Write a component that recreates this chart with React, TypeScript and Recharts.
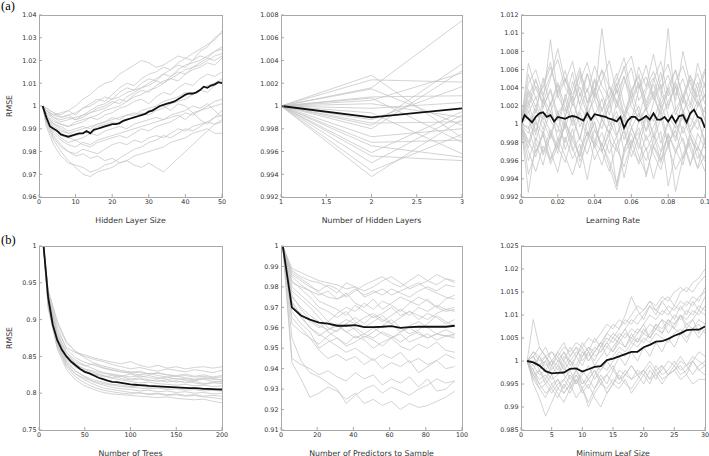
import { LineChart, Line, XAxis, YAxis } from 'recharts'

// ---- (a) hidden layer size ----
const hlsRunX = [1, 2, 4, 6, 8, 10, 12, 14, 16, 18, 20, 22, 24, 26, 28, 30, 32, 34, 36, 38, 40, 42, 44, 46, 48, 50]
const hlsRuns = [
  [1, 0.998, 0.996, 0.995, 0.996, 0.997, 0.999, 1.001, 1.003, 1.002, 1.005, 1.008, 1.01, 1.009, 1.012, 1.014, 1.015, 1.017, 1.016, 1.019, 1.021, 1.02, 1.024, 1.026, 1.03, 1.032],
  [1, 0.999, 0.997, 0.996, 0.998, 1, 1.003, 1.005, 1.008, 1.01, 1.011, 1.014, 1.016, 1.018, 1.02, 1.019, 1.017, 1.018, 1.02, 1.022, 1.021, 1.023, 1.025, 1.027, 1.029, 1.033],
  [1, 0.997, 0.995, 0.994, 0.995, 0.994, 0.996, 0.998, 1, 1.001, 1.003, 1.004, 1.006, 1.007, 1.008, 1.01, 1.012, 1.014, 1.013, 1.016, 1.018, 1.019, 1.02, 1.022, 1.024, 1.025],
  [1, 0.998, 0.995, 0.993, 0.994, 0.995, 0.996, 0.997, 0.999, 1, 1.002, 1.001, 1.004, 1.006, 1.008, 1.009, 1.011, 1.01, 1.013, 1.015, 1.014, 1.017, 1.019, 1.021, 1.02, 1.022],
  [1, 0.996, 0.993, 0.992, 0.991, 0.993, 0.994, 0.995, 0.996, 0.998, 0.999, 1, 1.002, 1.004, 1.005, 1.007, 1.008, 1.01, 1.012, 1.014, 1.016, 1.017, 1.018, 1.02, 1.022, 1.023],
  [1, 0.999, 0.997, 0.995, 0.996, 0.994, 0.995, 0.997, 0.998, 0.999, 1.001, 1.003, 1.002, 1.005, 1.007, 1.006, 1.009, 1.011, 1.012, 1.011, 1.014, 1.016, 1.017, 1.019, 1.018, 1.021],
  [1, 0.995, 0.991, 0.989, 0.988, 0.989, 0.99, 0.991, 0.992, 0.993, 0.994, 0.995, 0.996, 0.996, 0.998, 0.999, 1, 1.002, 1.003, 1.004, 1.006, 1.005, 1.007, 1.009, 1.01, 1.012],
  [1, 0.996, 0.992, 0.99, 0.988, 0.987, 0.988, 0.989, 0.991, 0.992, 0.993, 0.992, 0.994, 0.995, 0.997, 0.996, 0.998, 0.999, 1.001, 1.002, 1.003, 1.005, 1.007, 1.006, 1.009, 1.011],
  [1, 0.994, 0.988, 0.985, 0.983, 0.982, 0.984, 0.983, 0.985, 0.986, 0.987, 0.988, 0.989, 0.99, 0.991, 0.992, 0.993, 0.994, 0.995, 0.996, 0.994, 0.997, 0.998, 0.999, 1, 1.001],
  [1, 0.992, 0.985, 0.98, 0.976, 0.973, 0.97, 0.969, 0.971, 0.972, 0.973, 0.975, 0.976, 0.978, 0.979, 0.98, 0.981, 0.982, 0.984, 0.985, 0.986, 0.988, 0.989, 0.99, 0.988, 0.988],
  [1, 0.993, 0.987, 0.983, 0.98, 0.978, 0.979, 0.977, 0.978, 0.976, 0.977, 0.975, 0.976, 0.974, 0.973, 0.975, 0.973, 0.971, 0.974, 0.977, 0.98, 0.983, 0.986, 0.989, 0.992, 0.994],
  [1, 0.994, 0.989, 0.986, 0.984, 0.985, 0.983, 0.982, 0.984, 0.985, 0.986, 0.987, 0.986, 0.988, 0.99, 0.989, 0.991, 0.992, 0.993, 0.995, 0.997, 0.996, 0.998, 1, 1.002, 1.003],
  [1, 0.995, 0.99, 0.987, 0.986, 0.985, 0.986, 0.988, 0.987, 0.989, 0.99, 0.991, 0.99, 0.992, 0.993, 0.994, 0.995, 0.994, 0.996, 0.997, 0.998, 1, 0.999, 1.001, 0.998, 0.995],
  [1, 0.997, 0.994, 0.992, 0.991, 0.992, 0.993, 0.995, 0.994, 0.996, 0.997, 0.999, 1, 1.002, 1.003, 1.001, 1.004, 1.006, 1.005, 1.008, 1.01, 1.009, 1.012, 1.014, 1.013, 1.015],
  [1, 0.991, 0.983, 0.978, 0.975, 0.974, 0.973, 0.971, 0.972, 0.974, 0.975, 0.977, 0.979, 0.981, 0.982, 0.984, 0.985, 0.987, 0.986, 0.988, 0.99, 0.989, 0.991, 0.993, 0.995, 0.996],
  [1, 0.998, 0.996, 0.997, 0.998, 0.996, 0.999, 1, 1.002, 1.004, 1.003, 1.006, 1.008, 1.007, 1.01, 1.012, 1.011, 1.014, 1.016, 1.018, 1.017, 1.02, 1.022, 1.021, 1.024, 1.026],
  [1, 0.996, 0.992, 0.991, 0.989, 0.99, 0.991, 0.99, 0.992, 0.993, 0.995, 0.994, 0.996, 0.997, 0.996, 0.998, 0.999, 1, 0.998, 1.001, 1, 0.997, 0.994, 0.992, 0.995, 0.998],
  [1, 0.993, 0.986, 0.982, 0.98, 0.979, 0.981, 0.98, 0.979, 0.981, 0.983, 0.984, 0.983, 0.985, 0.984, 0.986, 0.987, 0.986, 0.988, 0.99, 0.989, 0.991, 0.992, 0.993, 0.992, 0.993],
]
const hlsMeanX = [1, 2, 3, 4, 5, 6, 7, 8, 9, 10, 11, 12, 13, 14, 15, 16, 17, 18, 19, 20, 21, 22, 23, 24, 25, 26, 27, 28, 29, 30, 31, 32, 33, 34, 35, 36, 37, 38, 39, 40, 41, 42, 43, 44, 45, 46, 47, 48, 49, 50]
const hlsMean = [1, 0.995, 0.991, 0.99, 0.989, 0.9875, 0.987, 0.9865, 0.987, 0.9875, 0.988, 0.988, 0.989, 0.988, 0.9895, 0.99, 0.9905, 0.991, 0.9915, 0.992, 0.992, 0.9925, 0.9935, 0.994, 0.9945, 0.995, 0.9955, 0.996, 0.9965, 0.9975, 0.998, 0.999, 1, 1.0005, 1.001, 1.0015, 1.002, 1.003, 1.004, 1.005, 1.0055, 1.0055, 1.006, 1.007, 1.0085, 1.008, 1.009, 1.0095, 1.0105, 1.01]

// ---- (a) number of hidden layers ----
const layersX = [1, 2, 3]
const layersRuns = [
  [1, 1.0027, 0.9972], [1, 1.0023, 1.0021], [1, 1.0016, 1.0075], [1, 1.0015, 0.9983],
  [1, 1.0008, 1.0009], [1, 1.0007, 0.9968], [1, 1.0005, 1.0029], [1, 1.0002, 0.999],
  [1, 0.9998, 1.0003], [1, 0.9994, 0.9958], [1, 0.9988, 1.0017], [1, 0.9985, 0.9986],
  [1, 0.9983, 1.0037], [1, 0.998, 1.0031], [1, 0.9973, 0.998], [1, 0.9968, 0.997],
  [1, 0.9959, 0.9995], [1, 0.9956, 0.9952], [1, 0.995, 0.9992], [1, 0.9943, 0.9975],
  [1, 0.9938, 0.9988], [1, 0.9965, 0.9955],
]
const layersMean = [1, 0.999, 0.9998]

// ---- (a) learning rate ----
const lrRunX = [0, 0.004, 0.008, 0.012, 0.016, 0.02, 0.024, 0.028, 0.032, 0.036, 0.04, 0.044, 0.048, 0.052, 0.056, 0.06, 0.064, 0.068, 0.072, 0.076, 0.08, 0.084, 0.088, 0.092, 0.096, 0.1]
const lrRuns = [
  [1, 1.0035, 1.0012, 1.0051, 1.002, 1.0043, 1.0008, 1.0039, 1.0062, 1.0024, 1.0048, 1.0015, 1.0033, 1.0056, 1.0021, 1.0004, 1.0038, 1.0065, 1.0029, 1.0011, 1.0042, 1.0059, 1.003, 1.0018, 1.0046, 1.0022],
  [1, 0.9979, 1.0006, 0.9966, 0.9988, 1.0015, 0.9972, 0.9995, 0.9959, 0.9981, 1.0003, 0.997, 0.9948, 0.9978, 0.9992, 0.9964, 0.9986, 1.0009, 0.9975, 0.9957, 0.999, 0.9968, 0.9998, 0.9973, 0.9952, 0.9984],
  [1, 1.0018, 1.0042, 1.0025, 1.0093, 1.0031, 1.0014, 1.0047, 1.0022, 1.0055, 1.003, 1.0105, 1.0041, 1.0026, 1.0009, 1.0038, 1.0052, 1.002, 1.0044, 1.0017, 1.0035, 1.006, 1.0028, 1.0049, 1.0019, 1.0032],
  [1, 0.9925, 0.998, 0.9955, 0.999, 0.9968, 1.0005, 0.9974, 0.9952, 0.9985, 1.0002, 0.9971, 0.9989, 0.9932, 0.997, 0.9996, 0.9978, 0.996, 0.9982, 1.0007, 0.9976, 0.995, 0.9966, 0.9988, 0.9962, 0.998],
  [1, 1.0026, 0.9992, 1.0019, 1.0037, 1.0004, 1.0028, 0.9998, 1.0016, 1.0039, 1.001, 0.9995, 1.0023, 1.0045, 1.0012, 1.0029, 1.0001, 1.0018, 1.0036, 1.0006, 1.0025, 1.0041, 1.0014, 0.9997, 1.002, 1.0033],
  [1, 0.999, 1.0017, 0.9994, 1.0024, 0.9982, 1.0009, 1.0031, 0.9997, 1.0015, 0.998, 1.0007, 1.0026, 0.9988, 1.001, 0.9974, 1.0003, 1.0019, 0.9985, 1.0022, 1.0001, 0.9981, 1.0013, 0.9993, 1.0008, 0.9977],
  [1, 1.0045, 1.006, 1.0032, 1.0054, 1.0071, 1.004, 1.0027, 1.0058, 1.0035, 1.0064, 1.0042, 1.0029, 1.005, 1.0073, 1.0036, 1.0055, 1.0024, 1.0048, 1.0069, 1.0031, 1.0046, 1.0023, 1.0053, 1.0039, 1.0061],
  [1, 0.997, 0.9948, 0.9976, 0.996, 0.9984, 0.9965, 0.9944, 0.9972, 0.9991, 0.9961, 0.9979, 0.9954, 0.9928, 0.9967, 0.9983, 0.9956, 0.9974, 0.994, 0.9969, 0.9987, 0.9926, 0.9963, 0.998, 0.9951, 0.9966],
  [1, 1.0012, 1.003, 1.0005, 1.0022, 1.0046, 1.0018, 1.0002, 1.0034, 1.0011, 1.0027, 1.0004, 1.0019, 1.0038, 1.0008, 1.0024, 1.0044, 1.0015, 1.0003, 1.0028, 1.0105, 1.0016, 1.0032, 1.0009, 1.0025, 1.0013],
  [1, 0.9995, 1.0021, 1.0003, 0.9984, 1.0012, 0.9996, 1.0023, 1.0006, 0.9987, 1.0009, 1.0028, 0.9998, 1.0014, 0.9983, 1.0005, 1.002, 0.9992, 1.0011, 0.9979, 1.0004, 1.0017, 0.999, 1.0008, 0.9994, 1.0019],
  [1, 1.0055, 1.0028, 1.004, 1.0063, 1.0034, 1.0051, 1.002, 1.0047, 1.0068, 1.0036, 1.0059, 1.0025, 1.0043, 1.0061, 1.0075, 1.0039, 1.0052, 1.0027, 1.0049, 1.0066, 1.0032, 1.005, 1.0021, 1.0067, 1.004],
  [1, 0.996, 0.9985, 0.9969, 0.9994, 0.9975, 0.9958, 0.9987, 0.9964, 0.9992, 0.9977, 0.9955, 0.9983, 0.997, 0.9995, 0.9972, 0.9959, 0.9988, 0.9967, 0.995, 0.998, 0.9993, 0.9962, 0.9984, 0.997, 0.9948],
  [1, 1.0008, 0.9981, 1.001, 0.9991, 0.9973, 1.0002, 0.9985, 1.0013, 0.9993, 0.9976, 1.0005, 0.9989, 1.0009, 0.997, 0.9996, 1.0012, 0.9982, 0.9997, 1.0016, 0.9978, 0.9994, 1.0007, 0.9987, 0.9971, 1.0002],
  [1, 1.003, 1.005, 1.0018, 1.0039, 1.0011, 1.0026, 1.0057, 1.002, 1.0006, 1.0035, 1.0014, 1.0042, 1.0023, 1.0053, 1.0019, 1.0008, 1.0037, 1.0051, 1.0022, 1.004, 1.001, 1.0031, 1.0054, 1.0026, 1.0005],
  [1, 0.9945, 0.997, 0.9988, 0.9962, 0.998, 0.9997, 0.9971, 0.9986, 0.9967, 0.9994, 0.9978, 0.996, 0.9935, 0.9973, 0.999, 0.9965, 0.9945, 0.9976, 0.9992, 0.9932, 0.9969, 0.9985, 0.9957, 0.9975, 0.9962],
  [1, 1.0015, 0.9988, 1.0028, 1.0004, 0.9991, 1.0033, 1.001, 0.9984, 1.0021, 1.004, 1.0006, 0.999, 1.0025, 1.0002, 1.0036, 1.0013, 0.9993, 1.0024, 1.0044, 1.0009, 0.9996, 1.0027, 1.0011, 1.0039, 1.0003],
  [1, 1.0067, 1.0039, 1.0022, 1.005, 1.0083, 1.0046, 1.0069, 1.0031, 1.0056, 1.0027, 1.0048, 1.007, 1.0034, 1.0052, 1.0029, 1.0063, 1.0041, 1.0077, 1.0038, 1.0054, 1.0026, 1.008, 1.0044, 1.003, 1.0058],
  [1, 0.9982, 0.9964, 0.9993, 0.9971, 0.9947, 0.9986, 0.9962, 0.9978, 0.9939, 0.9981, 0.9969, 0.9994, 0.9974, 0.9953, 0.998, 0.9991, 0.9942, 0.9977, 0.9961, 0.9989, 0.9972, 0.9955, 0.9992, 0.9976, 0.9959],
  [1, 1.0022, 1.0048, 1.003, 1.0013, 1.0036, 1.0059, 1.0024, 1.0041, 1.0016, 1.005, 1.0033, 1.001, 1.0039, 1.0064, 1.0028, 1.0046, 1.0015, 1.0032, 1.0057, 1.002, 1.0043, 1.0012, 1.0035, 1.0056, 1.0029],
  [1, 0.9974, 1.0002, 0.9989, 1.0014, 0.9997, 0.998, 1.0007, 0.9983, 1.0018, 0.9994, 0.9976, 1.0004, 0.9986, 1.0011, 0.9998, 0.9973, 1.0008, 0.999, 0.997, 1.0003, 0.9985, 1.0016, 0.9991, 1.0005, 0.9982],
  [1, 1.0038, 1.0019, 1.0044, 1.0068, 1.0029, 1.0049, 1.0032, 1.0054, 1.0023, 1.0037, 1.006, 1.0041, 1.0018, 1.0045, 1.0062, 1.0026, 1.004, 1.0058, 1.0034, 1.0017, 1.0048, 1.0064, 1.0036, 1.0022, 1.0046],
  [1, 0.9997, 0.9969, 0.999, 0.9956, 0.9977, 1.0001, 0.9982, 0.9965, 1.0004, 0.9974, 0.9991, 0.9968, 0.9987, 0.9941, 0.9979, 0.9996, 0.9971, 0.9988, 0.996, 0.9975, 1.0002, 0.9981, 0.9954, 0.999, 0.9973],
]
const lrMeanX = [0, 0.002, 0.004, 0.006, 0.008, 0.01, 0.012, 0.014, 0.016, 0.018, 0.02, 0.022, 0.024, 0.026, 0.028, 0.03, 0.032, 0.034, 0.036, 0.038, 0.04, 0.042, 0.044, 0.046, 0.048, 0.05, 0.052, 0.054, 0.056, 0.058, 0.06, 0.062, 0.064, 0.066, 0.068, 0.07, 0.072, 0.074, 0.076, 0.078, 0.08, 0.082, 0.084, 0.086, 0.088, 0.09, 0.092, 0.094, 0.096, 0.098, 0.1]
const lrMean = [1, 1.001, 1.0006, 1.0002, 1.0008, 1.0012, 1.0013, 1.0008, 1.001, 1.0003, 1.0008, 1.0007, 1.0006, 1.0008, 1.0009, 1.0008, 1.0006, 1.0004, 1.0012, 1.0005, 1.0011, 1.001, 1.0009, 1.0008, 1.0006, 1.0005, 1.0003, 1.0008, 0.9996, 1.0004, 1.0008, 1.0008, 1.0004, 1.0006, 1.0009, 1.0005, 1.0012, 1.0005, 1.0005, 1.0008, 1.0003, 1.0009, 1.0002, 1.0009, 1.001, 1.0002, 1.0012, 1.0016, 1.0008, 1.0006, 0.9996]

// ---- (b) number of trees ----
const treesRunX = [5, 10, 20, 30, 40, 50, 60, 70, 80, 90, 100, 110, 120, 130, 140, 150, 160, 170, 180, 190, 200]
const treesRuns = [
  [1, 0.935, 0.885, 0.862, 0.855, 0.852, 0.848, 0.845, 0.842, 0.84, 0.843, 0.838, 0.835, 0.838, 0.834, 0.836, 0.833, 0.835, 0.836, 0.834, 0.836],
  [1, 0.94, 0.895, 0.868, 0.857, 0.85, 0.846, 0.843, 0.839, 0.836, 0.833, 0.835, 0.832, 0.83, 0.833, 0.831, 0.829, 0.832, 0.83, 0.828, 0.831],
  [1, 0.93, 0.878, 0.852, 0.842, 0.837, 0.84, 0.835, 0.832, 0.829, 0.828, 0.83, 0.826, 0.828, 0.825, 0.824, 0.826, 0.823, 0.825, 0.822, 0.824],
  [1, 0.925, 0.872, 0.846, 0.835, 0.829, 0.825, 0.822, 0.824, 0.82, 0.818, 0.819, 0.817, 0.818, 0.815, 0.817, 0.814, 0.816, 0.813, 0.815, 0.816],
  [1, 0.928, 0.88, 0.855, 0.845, 0.838, 0.833, 0.828, 0.826, 0.824, 0.822, 0.824, 0.821, 0.82, 0.822, 0.819, 0.82, 0.818, 0.82, 0.819, 0.818],
  [1, 0.92, 0.865, 0.838, 0.826, 0.82, 0.816, 0.813, 0.811, 0.809, 0.808, 0.807, 0.806, 0.807, 0.805, 0.806, 0.804, 0.805, 0.803, 0.804, 0.803],
  [1, 0.915, 0.86, 0.832, 0.818, 0.81, 0.805, 0.801, 0.799, 0.798, 0.797, 0.796, 0.795, 0.794, 0.795, 0.793, 0.792, 0.791, 0.792, 0.789, 0.787],
  [1, 0.918, 0.863, 0.836, 0.822, 0.814, 0.808, 0.804, 0.802, 0.8, 0.799, 0.801, 0.798, 0.799, 0.797, 0.798, 0.796, 0.797, 0.795, 0.794, 0.792],
  [1, 0.93, 0.875, 0.848, 0.836, 0.83, 0.826, 0.824, 0.821, 0.823, 0.819, 0.821, 0.818, 0.816, 0.818, 0.815, 0.817, 0.814, 0.812, 0.814, 0.813],
  [1, 0.922, 0.868, 0.842, 0.83, 0.823, 0.818, 0.815, 0.812, 0.811, 0.809, 0.81, 0.808, 0.809, 0.807, 0.808, 0.806, 0.807, 0.806, 0.804, 0.805],
  [1, 0.935, 0.89, 0.86, 0.848, 0.842, 0.838, 0.834, 0.831, 0.829, 0.827, 0.825, 0.827, 0.824, 0.822, 0.823, 0.821, 0.819, 0.821, 0.82, 0.818],
  [1, 0.926, 0.872, 0.844, 0.83, 0.822, 0.815, 0.811, 0.808, 0.806, 0.805, 0.803, 0.804, 0.802, 0.803, 0.801, 0.802, 0.8, 0.801, 0.799, 0.8],
  [1, 0.932, 0.882, 0.856, 0.84, 0.832, 0.828, 0.824, 0.82, 0.818, 0.816, 0.814, 0.815, 0.813, 0.812, 0.811, 0.812, 0.81, 0.811, 0.809, 0.81],
  [1, 0.94, 0.898, 0.87, 0.856, 0.848, 0.841, 0.837, 0.834, 0.831, 0.829, 0.828, 0.826, 0.827, 0.825, 0.823, 0.824, 0.822, 0.823, 0.821, 0.822],
  [1, 0.92, 0.866, 0.84, 0.826, 0.818, 0.812, 0.807, 0.805, 0.803, 0.801, 0.8, 0.799, 0.8, 0.798, 0.799, 0.797, 0.798, 0.796, 0.797, 0.796],
  [1, 0.928, 0.876, 0.85, 0.838, 0.833, 0.83, 0.827, 0.825, 0.823, 0.826, 0.822, 0.824, 0.821, 0.819, 0.82, 0.818, 0.817, 0.819, 0.816, 0.815],
]
const treesMeanX = [5, 10, 15, 20, 25, 30, 35, 40, 45, 50, 55, 60, 65, 70, 75, 80, 85, 90, 95, 100, 105, 110, 115, 120, 125, 130, 135, 140, 145, 150, 155, 160, 165, 170, 175, 180, 185, 190, 195, 200]
const treesMean = [1, 0.93, 0.893, 0.872, 0.859, 0.85, 0.843, 0.838, 0.833, 0.829, 0.827, 0.824, 0.821, 0.819, 0.817, 0.8155, 0.815, 0.814, 0.813, 0.812, 0.8115, 0.811, 0.8105, 0.81, 0.8097, 0.8093, 0.809, 0.8087, 0.8083, 0.808, 0.8077, 0.8073, 0.807, 0.8068, 0.8065, 0.806, 0.8058, 0.8055, 0.8052, 0.805]

// ---- (b) number of predictors to sample ----
const predX = [1, 6, 11, 16, 21, 26, 31, 36, 41, 46, 51, 56, 61, 66, 71, 76, 81, 86, 91, 96]
const predRuns = [
  [1, 0.989, 0.987, 0.985, 0.983, 0.982, 0.981, 0.979, 0.98, 0.978, 0.98, 0.983, 0.985, 0.982, 0.979, 0.981, 0.983, 0.986, 0.984, 0.983],
  [1, 0.988, 0.985, 0.983, 0.982, 0.98, 0.977, 0.982, 0.98, 0.975, 0.977, 0.979, 0.976, 0.978, 0.98, 0.982, 0.979, 0.977, 0.975, 0.974],
  [1, 0.987, 0.984, 0.981, 0.977, 0.975, 0.974, 0.977, 0.972, 0.97, 0.974, 0.969, 0.972, 0.975, 0.973, 0.971, 0.974, 0.97, 0.968, 0.969],
  [1, 0.985, 0.981, 0.978, 0.973, 0.971, 0.969, 0.966, 0.971, 0.968, 0.965, 0.967, 0.97, 0.966, 0.968, 0.964, 0.967, 0.965, 0.962, 0.964],
  [1, 0.983, 0.979, 0.975, 0.97, 0.968, 0.965, 0.968, 0.963, 0.96, 0.963, 0.966, 0.962, 0.958, 0.961, 0.963, 0.96, 0.957, 0.959, 0.957],
  [1, 0.98, 0.976, 0.972, 0.968, 0.963, 0.961, 0.958, 0.96, 0.957, 0.955, 0.958, 0.956, 0.953, 0.956, 0.958, 0.955, 0.957, 0.956, 0.955],
  [1, 0.978, 0.974, 0.97, 0.965, 0.96, 0.958, 0.962, 0.959, 0.955, 0.958, 0.961, 0.964, 0.96, 0.957, 0.959, 0.962, 0.966, 0.963, 0.961],
  [1, 0.975, 0.97, 0.966, 0.963, 0.958, 0.955, 0.952, 0.956, 0.954, 0.95, 0.953, 0.955, 0.951, 0.949, 0.952, 0.95, 0.953, 0.949, 0.948],
  [1, 0.972, 0.965, 0.96, 0.957, 0.954, 0.951, 0.948, 0.95, 0.947, 0.944, 0.947, 0.945, 0.948, 0.943, 0.945, 0.942, 0.944, 0.947, 0.945],
  [1, 0.968, 0.962, 0.958, 0.95, 0.953, 0.955, 0.951, 0.953, 0.956, 0.954, 0.951, 0.955, 0.957, 0.953, 0.955, 0.957, 0.954, 0.956, 0.957],
  [1, 0.965, 0.96, 0.955, 0.952, 0.956, 0.959, 0.962, 0.965, 0.962, 0.966, 0.963, 0.966, 0.969, 0.966, 0.97, 0.968, 0.971, 0.969, 0.97],
  [1, 0.982, 0.98, 0.978, 0.976, 0.978, 0.974, 0.976, 0.979, 0.976, 0.978, 0.976, 0.979, 0.977, 0.975, 0.978, 0.98, 0.978, 0.981, 0.98],
  [1, 0.962, 0.958, 0.955, 0.949, 0.945, 0.947, 0.944, 0.946, 0.942, 0.945, 0.94, 0.943, 0.941, 0.944, 0.938, 0.941, 0.944, 0.94, 0.941],
  [1, 0.945, 0.942, 0.94, 0.937, 0.939, 0.936, 0.934, 0.938, 0.935, 0.937, 0.932, 0.935, 0.933, 0.936, 0.931, 0.935, 0.929, 0.93, 0.934],
  [1, 0.943, 0.935, 0.926, 0.928, 0.931, 0.929, 0.925, 0.928, 0.923, 0.925, 0.922, 0.924, 0.92, 0.923, 0.921, 0.922, 0.924, 0.926, 0.929],
  [1, 0.955, 0.944, 0.938, 0.936, 0.933, 0.93, 0.923, 0.927, 0.93, 0.932, 0.928, 0.931, 0.929, 0.927, 0.93, 0.932, 0.935, 0.933, 0.934],
  [1, 0.97, 0.967, 0.963, 0.96, 0.963, 0.967, 0.97, 0.968, 0.972, 0.969, 0.973, 0.971, 0.968, 0.972, 0.975, 0.973, 0.97, 0.974, 0.976],
  [1, 0.986, 0.983, 0.98, 0.978, 0.981, 0.979, 0.975, 0.978, 0.981, 0.983, 0.985, 0.982, 0.98, 0.983, 0.986, 0.983, 0.981, 0.984, 0.982],
  [1, 0.976, 0.969, 0.964, 0.961, 0.959, 0.962, 0.958, 0.955, 0.957, 0.96, 0.957, 0.955, 0.958, 0.96, 0.957, 0.955, 0.957, 0.956, 0.956],
  [1, 0.973, 0.966, 0.96, 0.956, 0.959, 0.961, 0.964, 0.962, 0.965, 0.967, 0.964, 0.962, 0.965, 0.968, 0.966, 0.964, 0.967, 0.969, 0.968],
]
const predMean = [1, 0.97, 0.966, 0.964, 0.9625, 0.962, 0.961, 0.961, 0.9613, 0.9603, 0.9603, 0.9605, 0.9608, 0.96, 0.9603, 0.9605, 0.9605, 0.9605, 0.9605, 0.961]

// ---- (b) minimum leaf size ----
const leafX = [1, 2, 3, 4, 5, 6, 7, 8, 9, 10, 11, 12, 13, 14, 15, 16, 17, 18, 19, 20, 21, 22, 23, 24, 25, 26, 27, 28, 29, 30]
const leafRuns = [
  [1, 1.001, 0.999, 1, 1.002, 1.001, 1.003, 1.002, 1.004, 1.003, 1.005, 1.004, 1.006, 1.008, 1.007, 1.009, 1.008, 1.01, 1.012, 1.011, 1.013, 1.012, 1.014, 1.013, 1.015, 1.016, 1.015, 1.017, 1.018, 1.02],
  [1, 0.998, 1.001, 0.999, 1, 0.998, 1.001, 1, 0.999, 1.002, 1.001, 1.003, 1.002, 1.004, 1.006, 1.005, 1.007, 1.009, 1.008, 1.01, 1.012, 1.011, 1.013, 1.014, 1.012, 1.015, 1.016, 1.015, 1.017, 1.0185],
  [1, 1.009, 1.003, 1.001, 1.002, 1, 0.999, 1.001, 1.003, 1.002, 1, 1.002, 1.004, 1.003, 1.005, 1.004, 1.006, 1.005, 1.007, 1.006, 1.008, 1.007, 1.009, 1.008, 1.01, 1.009, 1.011, 1.01, 1.012, 1.011],
  [1, 0.997, 0.998, 0.996, 0.999, 0.997, 1, 0.998, 1.001, 0.999, 1.002, 1, 1.003, 1.005, 1.004, 1.006, 1.005, 1.007, 1.006, 1.008, 1.01, 1.009, 1.011, 1.01, 1.012, 1.011, 1.013, 1.012, 1.014, 1.015],
  [1, 0.996, 0.994, 0.995, 0.993, 0.995, 0.996, 0.994, 0.997, 0.995, 0.996, 0.998, 0.996, 0.997, 0.995, 0.998, 0.997, 0.999, 0.997, 0.998, 0.996, 0.999, 0.997, 0.998, 1, 0.998, 0.999, 0.997, 0.999, 1],
  [1, 0.995, 0.992, 0.988, 0.991, 0.994, 0.993, 0.995, 0.992, 0.994, 0.99, 0.993, 0.995, 0.994, 0.996, 0.995, 0.997, 0.996, 0.998, 0.997, 0.999, 0.997, 0.998, 1, 0.999, 1.001, 0.999, 1, 1.002, 1.001],
  [1, 0.998, 0.996, 0.997, 0.995, 0.996, 0.994, 0.997, 0.995, 0.998, 0.996, 0.994, 0.997, 0.995, 0.998, 0.996, 0.997, 0.999, 0.997, 0.998, 1, 0.998, 0.999, 0.997, 0.998, 1, 0.999, 1.001, 1, 0.999],
  [1, 1.002, 1.001, 1.003, 1, 1.002, 1.004, 1.001, 1.003, 1, 1.002, 0.999, 1.001, 1.003, 1.002, 1.004, 1.003, 1.005, 1.004, 1.006, 1.005, 1.007, 1.006, 1.008, 1.007, 1.006, 1.008, 1.007, 1.009, 1.008],
  [1, 0.999, 0.997, 0.998, 0.996, 0.997, 0.999, 0.996, 0.998, 0.995, 0.997, 0.999, 0.998, 1, 1.001, 1.003, 1.002, 1.004, 1.003, 1.005, 1.004, 1.006, 1.005, 1.004, 1.006, 1.007, 1.005, 1.007, 1.008, 1.006],
  [1, 1.001, 0.998, 1, 0.997, 0.999, 0.997, 0.995, 0.998, 0.996, 0.994, 0.997, 0.999, 0.998, 1, 1.002, 1.001, 1.003, 1.005, 1.004, 1.006, 1.008, 1.007, 1.009, 1.008, 1.01, 1.009, 1.011, 1.01, 1.012],
  [1, 0.997, 0.995, 0.996, 0.994, 0.992, 0.995, 0.993, 0.996, 0.994, 0.991, 0.994, 0.996, 0.993, 0.995, 0.997, 0.995, 0.994, 0.996, 0.998, 0.996, 0.997, 0.995, 0.997, 0.998, 0.996, 0.997, 0.995, 0.996, 0.996],
  [1, 1, 0.999, 1.001, 0.998, 1, 1.002, 0.999, 1.001, 1.003, 1, 1.002, 1.004, 1.001, 1.003, 1.005, 1.007, 1.004, 1.006, 1.008, 1.005, 1.007, 1.009, 1.006, 1.008, 1.01, 1.007, 1.009, 1.006, 1.008],
  [1, 0.996, 0.998, 0.995, 0.997, 0.994, 0.996, 0.998, 0.995, 0.997, 0.999, 0.996, 0.998, 1, 0.998, 1.001, 0.999, 1.002, 1, 1.003, 1.001, 1.004, 1.002, 1.005, 1.003, 1.006, 1.004, 1.007, 1.005, 1.007],
  [1, 1.002, 1, 1.001, 0.999, 1.001, 0.998, 1, 1.002, 1.001, 1.003, 1.002, 1.004, 1.006, 1.005, 1.007, 1.009, 1.008, 1.01, 1.011, 1.013, 1.011, 1.01, 1.012, 1.011, 1.013, 1.012, 1.014, 1.013, 1.016],
  [1, 0.998, 0.995, 0.993, 0.994, 0.996, 0.993, 0.995, 0.997, 0.994, 0.996, 0.998, 0.995, 0.997, 0.999, 0.996, 0.998, 0.996, 0.997, 0.995, 0.998, 0.996, 0.999, 0.997, 0.998, 0.999, 0.997, 1, 0.998, 0.999],
  [1, 1.001, 1.003, 1.001, 0.999, 1.002, 1, 1.003, 1.001, 1.004, 1.002, 1.005, 1.003, 1.006, 1.008, 1.007, 1.01, 1.014, 1.011, 1.009, 1.012, 1.01, 1.013, 1.011, 1.009, 1.012, 1.01, 1.013, 1.011, 1.014],
  [1, 0.997, 0.994, 0.992, 0.995, 0.993, 0.991, 0.994, 0.996, 0.993, 0.995, 0.992, 0.99, 0.993, 0.995, 0.994, 0.996, 0.993, 0.995, 0.997, 0.995, 0.998, 0.996, 0.997, 0.999, 0.997, 0.998, 1, 0.998, 0.997],
  [1, 0.999, 1.001, 0.998, 1, 0.999, 1.002, 1, 0.998, 1.001, 1.003, 1.001, 1.002, 1.004, 1.002, 1.005, 1.003, 1.006, 1.004, 1.007, 1.005, 1.008, 1.006, 1.009, 1.007, 1.01, 1.008, 1.009, 1.011, 1.01],
]
const leafMean = [1, 0.9997, 0.999, 0.9978, 0.9973, 0.9974, 0.9975, 0.9983, 0.9984, 0.9977, 0.9982, 0.9987, 0.9989, 1.0002, 1.0005, 1.001, 1.0015, 1.002, 1.002, 1.003, 1.0035, 1.0042, 1.0043, 1.0048, 1.0055, 1.006, 1.0067, 1.0068, 1.0068, 1.0075]

// ---- axis ticks ----
const hlsXTicks = [0, 10, 20, 30, 40, 50]
const hlsYTicks = [0.96, 0.97, 0.98, 0.99, 1, 1.01, 1.02, 1.03, 1.04]
const layersXTicks = [1, 1.5, 2, 2.5, 3]
const layersYTicks = [0.992, 0.994, 0.996, 0.998, 1, 1.002, 1.004, 1.006, 1.008]
const lrXTicks = [0, 0.02, 0.04, 0.06, 0.08, 0.1]
const lrYTicks = [0.992, 0.994, 0.996, 0.998, 1, 1.002, 1.004, 1.006, 1.008, 1.01, 1.012]
const treesXTicks = [0, 50, 100, 150, 200]
const treesYTicks = [0.75, 0.8, 0.85, 0.9, 0.95, 1]
const predXTicks = [0, 20, 40, 60, 80, 100]
const predYTicks = [0.91, 0.92, 0.93, 0.94, 0.95, 0.96, 0.97, 0.98, 0.99, 1]
const leafXTicks = [0, 5, 10, 15, 20, 25, 30]
const leafYTicks = [0.985, 0.99, 0.995, 1, 1.005, 1.01, 1.015, 1.02, 1.025]

const FONT = '"DejaVu Sans", sans-serif'
const FRAME = '#a8a8a8'
const ML = 45
const MT = 6
const MR = 6
const XH = 20

const fmt = (v: number) => String(Number(v.toFixed(4)))
const toPts = (xs: number[], ys: number[]) => ys.map((y, i) => ({ x: xs[i], y }))

interface PanelProps {
  left: number
  top: number
  width: number
  height: number
  xTicks: number[]
  yTicks: number[]
  xLabel: string
  rmse?: boolean
  runX: number[]
  runs: number[][]
  meanX: number[]
  mean: number[]
}

function Panel(p: PanelProps) {
  const xDom: [number, number] = [p.xTicks[0], p.xTicks[p.xTicks.length - 1]]
  const yDom: [number, number] = [p.yTicks[0], p.yTicks[p.yTicks.length - 1]]
  const tick = { fill: '#333', fontSize: 6.4, fontFamily: FONT }
  return (
    <>
      <div style={{ position: 'absolute', left: p.left - ML, top: p.top - MT }}>
        <LineChart width={ML + p.width + MR} height={MT + p.height + XH} margin={{ top: MT, right: MR, bottom: 0, left: 0 }}>
          <XAxis xAxisId="b" dataKey="x" type="number" domain={xDom} ticks={p.xTicks} allowDataOverflow height={XH}
            axisLine={false} tickLine={{ stroke: FRAME }} tickSize={-3} tickMargin={5.5} tick={tick} tickFormatter={fmt} interval={0} />
          <YAxis yAxisId="l" type="number" domain={yDom} ticks={p.yTicks} allowDataOverflow width={ML}
            axisLine={false} tickLine={{ stroke: FRAME }} tickSize={-3} tickMargin={5.5} tick={tick} tickFormatter={fmt} interval={0} />
          {p.runs.map((r, i) => (
            <Line key={i} xAxisId="b" yAxisId="l" data={toPts(p.runX, r)} dataKey="y" stroke="#c4c4c4" strokeWidth={0.75}
              dot={false} activeDot={false} isAnimationActive={false} />
          ))}
          <Line xAxisId="b" yAxisId="l" data={toPts(p.meanX, p.mean)} dataKey="y" stroke="#111" strokeWidth={1.8}
            dot={false} activeDot={false} isAnimationActive={false} />
        </LineChart>
      </div>
      {/* plot frame */}
      <div style={{ position: 'absolute', left: p.left, top: p.top, width: p.width + 1, height: p.height + 1,
        border: `1px solid ${FRAME}`, boxSizing: 'border-box', pointerEvents: 'none' }} />
      <div style={{ position: 'absolute', left: p.left + p.width / 2, top: p.top + p.height + 23, transform: 'translate(-50%, -50%)',
        fontSize: 7.8, fontFamily: FONT, color: '#333', whiteSpace: 'nowrap' }}>{p.xLabel}</div>
      {p.rmse && (
        <div style={{ position: 'absolute', left: 8.5, top: p.top + p.height / 2, transform: 'translate(-50%, -50%) rotate(-90deg)',
          fontSize: 7.8, fontFamily: FONT, color: '#333', whiteSpace: 'nowrap' }}>RMSE</div>
      )}
    </>
  )
}

export default function App() {
  return (
    <div style={{ position: 'absolute', left: 0, top: 0, width: 709, height: 456, background: '#fff', overflow: 'hidden' }}>
      <div style={{ position: 'absolute', left: 1, top: 0, fontSize: 12.5, fontFamily: '"Liberation Serif", serif', lineHeight: 1 }}>(a)</div>
      <div style={{ position: 'absolute', left: 1, top: 234, fontSize: 12.5, fontFamily: '"Liberation Serif", serif', lineHeight: 1 }}>(b)</div>

      <Panel left={39} top={15} width={183} height={182} xTicks={hlsXTicks} yTicks={hlsYTicks} xLabel="Hidden Layer Size" rmse
        runX={hlsRunX} runs={hlsRuns} meanX={hlsMeanX} mean={hlsMean} />
      <Panel left={281} top={15} width={181} height={182} xTicks={layersXTicks} yTicks={layersYTicks} xLabel="Number of Hidden Layers"
        runX={layersX} runs={layersRuns} meanX={layersX} mean={layersMean} />
      <Panel left={521} top={15} width={184} height={182} xTicks={lrXTicks} yTicks={lrYTicks} xLabel="Learning Rate"
        runX={lrRunX} runs={lrRuns} meanX={lrMeanX} mean={lrMean} />

      <Panel left={39} top={246} width={183} height={184} xTicks={treesXTicks} yTicks={treesYTicks} xLabel="Number of Trees" rmse
        runX={treesRunX} runs={treesRuns} meanX={treesMeanX} mean={treesMean} />
      <Panel left={281} top={246} width={181} height={184} xTicks={predXTicks} yTicks={predYTicks} xLabel="Number of Predictors to Sample"
        runX={predX} runs={predRuns} meanX={predX} mean={predMean} />
      <Panel left={521} top={246} width={184} height={184} xTicks={leafXTicks} yTicks={leafYTicks} xLabel="Minimum Leaf Size"
        runX={leafX} runs={leafRuns} meanX={leafX} mean={leafMean} />
    </div>
  )
}
